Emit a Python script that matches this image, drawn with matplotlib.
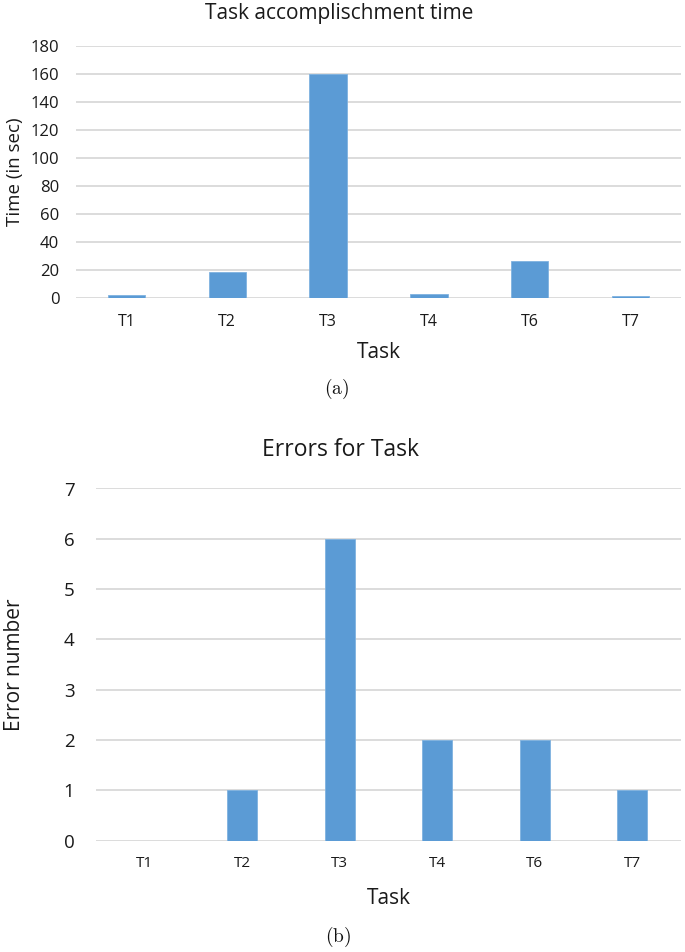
import matplotlib
matplotlib.use("Agg")
import matplotlib.pyplot as plt

plt.rcParams['font.family'] = ['Open Sans', 'DejaVu Sans']
plt.rcParams['mathtext.fontset'] = 'cm'

tasks = ["T1", "T2", "T3", "T4", "T6", "T7"]
time_sec = [2, 18.5, 160, 3, 27, 1.5]
errors = [0, 1, 6, 2, 2, 1]

time_ticks = [0, 20, 40, 60, 80, 100, 120, 140, 160, 180]
error_ticks = [0, 1, 2, 3, 4, 5, 6, 7]

BAR = "#5B9BD5"
GRID = "#D9D9D9"
TXT = "#1A1A1A"

W, H = 685, 952
fig = plt.figure(figsize=(W / 100, H / 100), dpi=100)


def fx(px):
    return px / W


def fy(py):
    return 1 - py / H


def style(ax, ticks, ylim, xfs, yfs, xpad, ypad):
    ax.set_ylim(*ylim)
    ax.set_xlim(-0.5, len(tasks) - 0.5)
    ax.set_yticks(ticks)
    ax.set_xticks(range(len(tasks)))
    ax.set_xticklabels(tasks)
    for s in ax.spines.values():
        s.set_visible(False)
    ax.yaxis.grid(True, color=GRID, linewidth=1.3)
    ax.set_axisbelow(True)
    ax.tick_params(axis='both', length=0, colors=TXT)
    ax.tick_params(axis='x', labelsize=xfs, pad=xpad)
    ax.tick_params(axis='y', labelsize=yfs, pad=ypad)


# Chart (a)
ax1 = fig.add_axes([fx(76), fy(298.3), fx(681) - fx(76), fy(46.3) - fy(298.3)])
ax1.bar(range(len(tasks)), time_sec, width=0.37, color=BAR, edgecolor="#7FB2E0", linewidth=0.6)
style(ax1, time_ticks, (0, 180), 11.5, 12, 11, 12)
fig.text(fx(339), fy(14), "Task accomplischment time", ha='center', va='center', fontsize=15, color=TXT)
fig.text(fx(15), fy(172), "Time (in sec)", ha='center', va='center', rotation=90, fontsize=13.5, color=TXT)
fig.text(fx(379), fy(352), "Task", ha='center', va='center', fontsize=15, color=TXT)
fig.text(fx(337), fy(389), r"$\mathrm{(a)}$", ha='center', va='center', fontsize=14, color="#111111")

# Chart (b)
ax2 = fig.add_axes([fx(96), fy(840.7), fx(681) - fx(96), fy(488.5) - fy(840.7)])
ax2.bar(range(len(tasks)), errors, width=0.31, color=BAR, edgecolor="#7FB2E0", linewidth=0.6)
style(ax2, error_ticks, (0, 7), 11, 13.5, 11, 15.5)
fig.text(fx(340), fy(450), "Errors for Task", ha='center', va='center', fontsize=16.5, color=TXT)
fig.text(fx(15), fy(665), "Error number", ha='center', va='center', rotation=90, fontsize=15, color=TXT)
fig.text(fx(389), fy(899), "Task", ha='center', va='center', fontsize=15, color=TXT)
fig.text(fx(338), fy(937), r"$\mathrm{(b)}$", ha='center', va='center', fontsize=14, color="#111111")

fig.savefig("out.png", dpi=100, facecolor="white")
